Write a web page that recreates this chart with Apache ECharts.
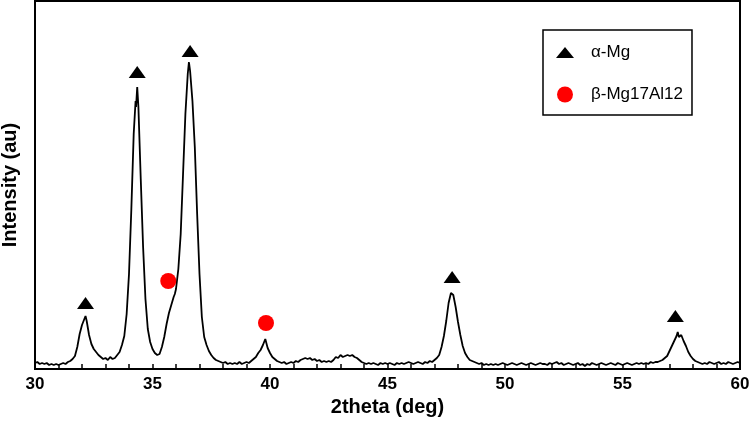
<!DOCTYPE html>
<html>
<head>
<meta charset="utf-8">
<script src="https://cdn.jsdelivr.net/npm/echarts@6/dist/echarts.min.js"></script>
<style>
  html, body { margin: 0; padding: 0; background: #fff; }
  #chart { width: 749px; height: 427px; }
</style>
</head>
<body>
<div id="chart"></div>
<script>
// XRD pattern: [2theta, intensity (arbitrary units)]
const pattern = [
  [30.0, 6], [30.1, 7], [30.2, 5], [30.3, 6], [30.4, 5], [30.5, 6], [30.6, 4], [30.7, 5], [30.8, 4], [30.9, 5],
  [31.0, 4], [31.1, 5], [31.2, 6], [31.3, 5], [31.4, 7], [31.5, 8], [31.6, 10], [31.7, 13], [31.8, 22], [31.9, 35],
  [32.0, 44], [32.1, 50], [32.15, 53], [32.2, 48], [32.3, 34], [32.4, 25], [32.5, 20], [32.6, 17], [32.7, 14], [32.8, 12],
  [32.9, 10], [33.0, 11], [33.1, 9], [33.2, 12], [33.3, 10], [33.4, 11], [33.5, 14], [33.6, 17], [33.7, 24], [33.8, 33],
  [33.9, 55], [34.0, 95], [34.1, 160], [34.2, 235], [34.28, 268], [34.3, 262], [34.35, 282], [34.4, 262], [34.5, 190], [34.6, 122], [34.7, 70],
  [34.8, 40], [34.9, 27], [35.0, 20], [35.1, 16], [35.2, 14], [35.3, 15], [35.4, 22], [35.5, 32], [35.6, 45], [35.7, 56],
  [35.8, 64], [35.85, 62], [35.9, 72], [35.95, 75], [36.0, 80], [36.1, 100], [36.2, 135], [36.3, 195], [36.4, 255], [36.5, 295], [36.55, 307],
  [36.6, 298], [36.7, 268], [36.8, 222], [36.9, 155], [37.0, 95], [37.1, 52], [37.2, 32], [37.3, 24], [37.4, 18], [37.5, 14],
  [37.6, 11], [37.7, 9], [37.8, 8], [37.9, 7], [38.0, 6], [38.1, 7], [38.2, 5], [38.3, 6], [38.4, 5], [38.5, 6],
  [38.6, 5], [38.7, 7], [38.8, 5], [38.9, 6], [39.0, 7], [39.1, 6], [39.2, 8], [39.3, 10], [39.4, 12], [39.5, 16],
  [39.6, 19], [39.7, 24], [39.8, 30], [39.85, 28], [39.9, 21], [40.0, 16], [40.1, 12], [40.2, 10], [40.3, 8], [40.4, 7],
  [40.5, 6], [40.6, 7], [40.7, 5], [40.8, 6], [40.9, 7], [41.0, 6], [41.1, 8], [41.2, 7], [41.3, 9], [41.4, 10],
  [41.5, 11], [41.6, 10], [41.7, 11], [41.8, 9], [41.9, 10], [42.0, 8], [42.1, 9], [42.2, 7], [42.3, 8], [42.4, 7],
  [42.5, 8], [42.6, 7], [42.7, 9], [42.8, 12], [42.9, 11], [43.0, 14], [43.1, 12], [43.2, 13], [43.3, 14], [43.4, 13],
  [43.5, 14], [43.6, 12], [43.7, 11], [43.8, 9], [43.9, 7], [44.0, 6], [44.1, 5], [44.2, 6], [44.3, 5], [44.4, 6],
  [44.5, 5], [44.6, 4], [44.7, 6], [44.8, 5], [44.9, 6], [45.0, 5], [45.1, 6], [45.2, 5], [45.3, 4], [45.4, 6],
  [45.5, 5], [45.6, 6], [45.7, 5], [45.8, 6], [45.9, 7], [46.0, 6], [46.1, 5], [46.2, 6], [46.3, 7], [46.4, 6],
  [46.5, 5], [46.6, 7], [46.7, 6], [46.8, 8], [46.9, 7], [47.0, 9], [47.1, 11], [47.2, 14], [47.3, 22], [47.4, 33],
  [47.5, 48], [47.6, 66], [47.7, 76], [47.75, 78], [47.8, 74], [47.9, 62], [48.0, 47], [48.1, 34], [48.2, 23], [48.3, 16],
  [48.4, 12], [48.5, 9], [48.6, 8], [48.7, 7], [48.8, 6], [48.9, 5], [49.0, 6], [49.1, 4], [49.2, 5], [49.3, 4],
  [49.4, 5], [49.5, 4], [49.6, 5], [49.7, 4], [49.8, 5], [49.9, 6], [50.0, 5], [50.1, 4], [50.2, 5], [50.3, 6],
  [50.4, 5], [50.5, 4], [50.6, 5], [50.7, 6], [50.8, 5], [50.9, 4], [51.0, 5], [51.1, 6], [51.2, 5], [51.3, 4],
  [51.4, 5], [51.5, 6], [51.6, 5], [51.7, 5], [51.8, 4], [51.9, 6], [52.0, 5], [52.1, 6], [52.2, 7], [52.3, 5],
  [52.4, 6], [52.5, 4], [52.6, 5], [52.7, 6], [52.8, 5], [52.9, 4], [53.0, 5], [53.1, 6], [53.2, 4], [53.3, 5],
  [53.4, 3], [53.5, 5], [53.6, 4], [53.7, 6], [53.8, 5], [53.9, 4], [54.0, 5], [54.1, 6], [54.2, 5], [54.3, 4],
  [54.4, 5], [54.5, 6], [54.6, 5], [54.7, 4], [54.8, 6], [54.9, 5], [55.0, 4], [55.1, 5], [55.2, 6], [55.3, 5],
  [55.4, 4], [55.5, 5], [55.6, 6], [55.7, 5], [55.8, 6], [55.9, 5], [56.0, 6], [56.1, 5], [56.2, 7], [56.3, 6],
  [56.4, 7], [56.5, 7], [56.6, 8], [56.7, 9], [56.8, 11], [56.9, 13], [57.0, 18], [57.1, 23], [57.2, 28], [57.3, 33],
  [57.35, 37], [57.4, 32], [57.5, 34], [57.6, 28], [57.7, 23], [57.8, 17], [57.9, 13], [58.0, 10], [58.1, 8], [58.2, 7],
  [58.3, 6], [58.4, 5], [58.5, 6], [58.6, 5], [58.7, 7], [58.8, 6], [58.9, 5], [59.0, 6], [59.1, 7], [59.2, 5],
  [59.3, 6], [59.4, 5], [59.5, 7], [59.6, 6], [59.7, 5], [59.8, 6], [59.9, 7], [60.0, 6]
];

// phase markers placed just above their peaks
const alphaPeaks = [[32.15, 66], [34.35, 297], [36.6, 318], [47.75, 92], [57.25, 53]];
const betaPeaks = [[35.67, 88], [39.83, 46]];

const xTicks = [30, 35, 40, 45, 50, 55, 60];

const font = 'Liberation Sans, Arial, sans-serif';

const chart = echarts.init(document.getElementById('chart'));

chart.setOption({
  animation: false,
  grid: {
    left: 35,
    right: 9,
    top: 1,
    bottom: 58,
    outerBoundsMode: 'none',
    containLabel: false,
    show: true,
    borderColor: '#000',
    borderWidth: 2
  },
  legend: {
    orient: 'vertical',
    left: 543,
    top: 30,
    padding: [14, 9, 12, 13],
    itemGap: 25,
    itemWidth: 18,
    itemHeight: 16,
    borderColor: '#000',
    borderWidth: 1.5,
    textStyle: {
      fontFamily: font,
      fontSize: 17,
      color: '#000',
      padding: [0, 0, 0, 12]
    },
    data: [
      { name: 'α-Mg', icon: 'path://M0,11L9,0L18,11Z' },
      { name: 'β-Mg17Al12', icon: 'circle' }
    ]
  },
  xAxis: {
    type: 'value',
    min: xTicks[0],
    max: xTicks[xTicks.length - 1],
    interval: 5,
    name: '2theta (deg)',
    nameLocation: 'middle',
    nameGap: 26,
    nameTextStyle: { fontFamily: font, fontSize: 20, fontWeight: 'bold', color: '#000' },
    axisLine: { lineStyle: { color: '#000', width: 2 } },
    axisTick: { inside: true, length: 5, lineStyle: { color: '#000', width: 1.5 } },
    minorTick: { show: true, splitNumber: 5, length: 5, lineStyle: { color: '#000', width: 1.5 } },
    axisLabel: { margin: 7, fontFamily: font, fontSize: 17, fontWeight: 'bold', color: '#000' },
    splitLine: { show: false }
  },
  yAxis: {
    type: 'value',
    min: 0,
    max: 368,
    name: 'Intensity (au)',
    nameLocation: 'middle',
    nameGap: 15,
    nameTextStyle: { fontFamily: font, fontSize: 20, fontWeight: 'bold', color: '#000' },
    axisLine: { show: true, lineStyle: { color: '#000', width: 2 } },
    axisTick: { show: false },
    axisLabel: { show: false },
    splitLine: { show: false }
  },
  series: [
    {
      name: 'pattern',
      type: 'line',
      data: pattern,
      showSymbol: false,
      lineStyle: { color: '#000', width: 1.8 },
      z: 2
    },
    {
      name: 'α-Mg',
      type: 'scatter',
      data: alphaPeaks,
      symbol: 'triangle',
      symbolSize: [17, 12],
      itemStyle: { color: '#000', opacity: 1 },
      z: 3
    },
    {
      name: 'β-Mg17Al12',
      type: 'scatter',
      data: betaPeaks,
      symbol: 'circle',
      symbolSize: 16,
      itemStyle: { color: '#ff0000', opacity: 1 },
      z: 3
    }
  ]
});
</script>
</body>
</html>
